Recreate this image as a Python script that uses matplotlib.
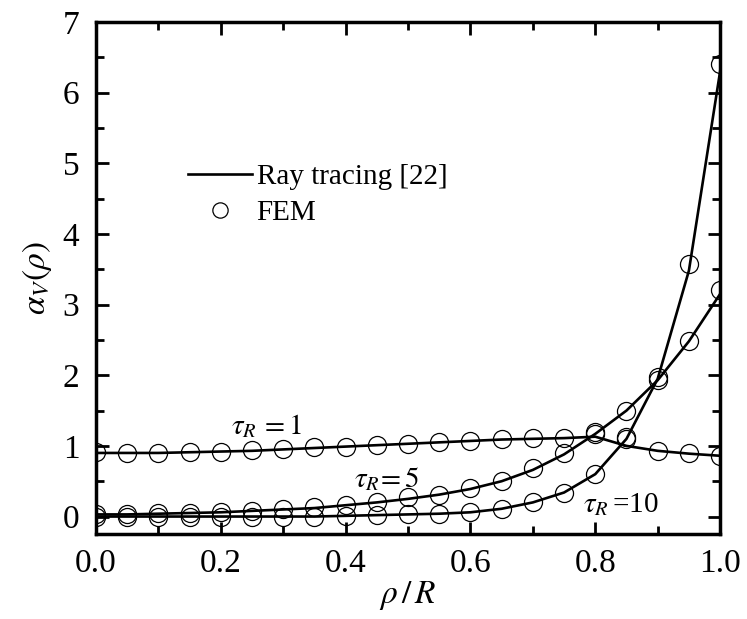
import matplotlib
matplotlib.use('Agg')
import matplotlib.pyplot as plt
import numpy as np
from matplotlib.ticker import MultipleLocator

plt.rcParams['font.family'] = ['Liberation Serif', 'DejaVu Serif']
plt.rcParams['mathtext.fontset'] = 'stix'

# radial position rho/R
x = [0.0, 0.05, 0.1, 0.15, 0.2, 0.25, 0.3, 0.35, 0.4, 0.45, 0.5,
     0.55, 0.6, 0.65, 0.7, 0.75, 0.8, 0.85, 0.9, 0.95, 1.0]

# Ray tracing [22] (lines)
ray_t1 = [0.90, 0.90, 0.90, 0.91, 0.92, 0.93, 0.95, 0.97, 0.99, 1.01, 1.03,
          1.05, 1.07, 1.09, 1.10, 1.11, 1.13, 1.00, 0.93, 0.89, 0.86]
ray_t5 = [0.03, 0.03, 0.04, 0.05, 0.06, 0.08, 0.10, 0.12, 0.16, 0.20, 0.25,
          0.31, 0.39, 0.50, 0.66, 0.88, 1.17, 1.50, 1.93, 2.48, 3.15]
ray_t10 = [0.00, 0.00, 0.00, 0.00, 0.00, 0.00, 0.00, 0.00, 0.01, 0.02, 0.03,
           0.04, 0.06, 0.11, 0.20, 0.34, 0.60, 1.10, 1.95, 3.48, 6.30]

# FEM (circles)
fem_t1 = [0.91, 0.90, 0.90, 0.91, 0.92, 0.94, 0.96, 0.98, 0.99, 1.01, 1.03,
          1.06, 1.07, 1.10, 1.11, 1.11, 1.17, 1.10, 0.93, 0.90, 0.86]
fem_t5 = [0.03, 0.03, 0.05, 0.05, 0.06, 0.08, 0.10, 0.13, 0.16, 0.20, 0.27,
          0.30, 0.40, 0.50, 0.68, 0.90, 1.20, 1.50, 1.93, 2.49, 3.21]
fem_t10 = [0.00, 0.00, 0.00, 0.00, 0.00, 0.00, 0.00, 0.00, 0.01, 0.02, 0.03,
           0.03, 0.06, 0.11, 0.20, 0.34, 0.60, 1.13, 1.98, 3.57, 6.41]

fig = plt.figure(figsize=(7.47, 6.19), dpi=100)
ax = fig.add_axes([0.1285, 0.137, 0.8355, 0.8275])

lw = 1.9
ms = 13
for ray, fem in [(ray_t1, fem_t1), (ray_t5, fem_t5), (ray_t10, fem_t10)]:
    ax.plot(x, ray, color='black', lw=lw)
    ax.plot(x, fem, ls='none', marker='o', ms=ms, mfc='none', mec='black', mew=0.9)

# legend handles
ax.plot([], [], color='black', lw=lw, label='Ray tracing [22]')
ax.plot([], [], ls='none', marker='o', ms=11, mfc='none', mec='black', mew=0.9, label='FEM')
h, l = ax.get_legend_handles_labels()
ax.legend(h[-2:], l[-2:], loc='upper left', bbox_to_anchor=(0.124, 0.752), frameon=False,
          fontsize=21, handlelength=2.2, handletextpad=0.15, labelspacing=0.34,
          borderpad=0)

ax.text(0.217, 1.17, r'$\tau_R\,=1$', fontsize=21)
ax.text(0.414, 0.41, r'$\tau_R\!=5$', fontsize=21)
ax.text(0.78, 0.06, r'$\tau_R\,$=10', fontsize=21)

ax.set_xlim(0, 1.0)
ax.set_ylim(-0.25, 7)
ax.xaxis.set_major_locator(MultipleLocator(0.2))
ax.xaxis.set_minor_locator(MultipleLocator(0.1))
ax.yaxis.set_major_locator(MultipleLocator(1))
ax.yaxis.set_minor_locator(MultipleLocator(0.5))
ax.xaxis.set_major_formatter(plt.FuncFormatter(lambda v, p: f'{v:.1f}'))

ax.tick_params(which='both', direction='in', top=True, right=True, width=2,
               labelsize=24)
ax.tick_params(which='major', length=9)
ax.tick_params(which='minor', length=6)
ax.tick_params(axis='x', pad=10)
ax.tick_params(axis='y', pad=12)
for s in ax.spines.values():
    s.set_linewidth(2.5)

ax.set_xlabel(r'$\rho\,/\,R$', fontsize=24, labelpad=0)
ax.set_ylabel(r'$\alpha_V(\rho)$', fontsize=24, labelpad=6)

fig.savefig('out.png', dpi=100)
